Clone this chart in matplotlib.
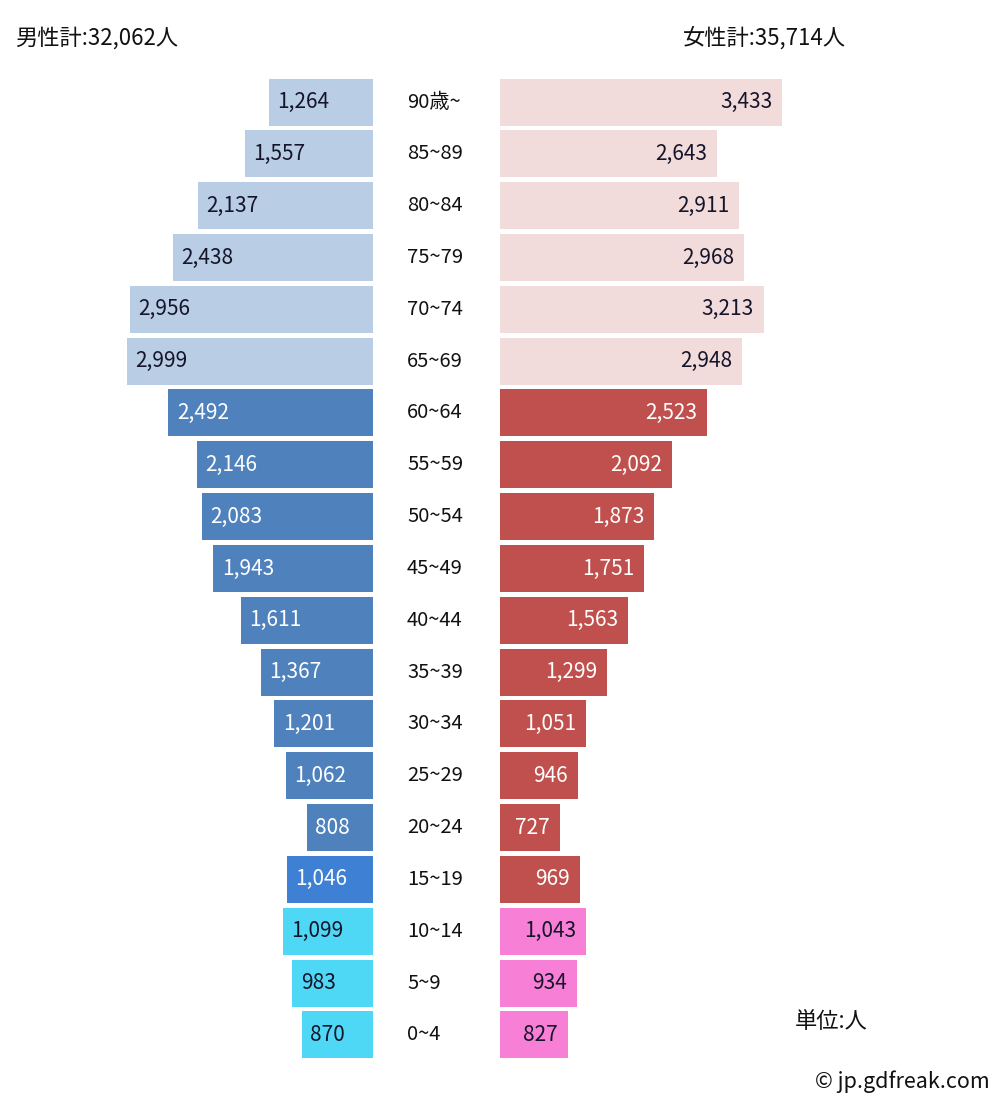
import matplotlib
matplotlib.use("Agg")
import matplotlib.pyplot as plt

ages = ["90歳~", "85~89", "80~84", "75~79", "70~74", "65~69", "60~64", "55~59",
        "50~54", "45~49", "40~44", "35~39", "30~34", "25~29", "20~24", "15~19",
        "10~14", "5~9", "0~4"]
male = [1264, 1557, 2137, 2438, 2956, 2999, 2492, 2146, 2083, 1943, 1611, 1367,
        1201, 1062, 808, 1046, 1099, 983, 870]
female = [3433, 2643, 2911, 2968, 3213, 2948, 2523, 2092, 1873, 1751, 1563, 1299,
          1051, 946, 727, 969, 1043, 934, 827]
male_total = "男性計:32,062人"
female_total = "女性計:35,714人"

def group(i):
    if i <= 5:
        return "old"
    if i == 15:
        return "teen"
    if i >= 16:
        return "young"
    return "mid"

male_colors = {"old": "#b9cde5", "mid": "#4f81bd", "teen": "#3d80d4", "young": "#4fd8f6"}
female_colors = {"old": "#f2dcdb", "mid": "#c0504d", "teen": "#c0504d", "young": "#f77fd6"}
text_colors = {"old": "#15152a", "mid": "white", "teen": "white", "young": "#15152a"}

FONT = ["Noto Sans CJK JP", "DejaVu Sans"]

W, H = 1000, 1103
fig = plt.figure(figsize=(W / 100, H / 100), dpi=100)

scale = 0.0821  # px per person
row_px = 51.83
y0 = 102
r_top = -y0 / row_px
r_bot = (H - y0) / row_px
bh = 47 / row_px

axm = fig.add_axes([0, 0, 373 / W, 1])
axm.set_xlim(373 / scale, 0)
axm.set_ylim(r_bot, r_top)
axm.axis("off")
axf = fig.add_axes([500 / W, 0, 500 / W, 1])
axf.set_xlim(0, 500 / scale)
axf.set_ylim(r_bot, r_top)
axf.axis("off")

ys = list(range(len(ages)))
gs = [group(i) for i in ys]
axm.barh(ys, male, height=bh, color=[male_colors[g] for g in gs], left=0)
axf.barh(ys, female, height=bh, color=[female_colors[g] for g in gs], left=0)

for i, (m, f, g) in enumerate(zip(male, female, gs)):
    axm.annotate(f"{m:,}", xy=(m, i), xytext=(6, 0), textcoords="offset points",
                 ha="left", va="center", fontsize=15, color=text_colors[g], family=FONT)
    axf.annotate(f"{f:,}", xy=(f, i), xytext=(-7, 0), textcoords="offset points",
                 ha="right", va="center", fontsize=15, color=text_colors[g], family=FONT)
    fig.text(407 / W, 1 - (y0 + i * row_px) / H, ages[i], ha="left", va="center",
             fontsize=14.5, color="#111111", family=FONT)

fig.text(15 / W, 1 - 38 / H, male_total, ha="left", va="center", fontsize=16,
         color="#111111", family=FONT)
fig.text(683 / W, 1 - 38 / H, female_total, ha="left", va="center", fontsize=16,
         color="#111111", family=FONT)
fig.text(795 / W, 1 - 1022 / H, "単位:人", ha="left", va="center", fontsize=16,
         color="#111111", family=FONT)
fig.text(990 / W, 1 - 1082 / H, "© jp.gdfreak.com", ha="right", va="center", fontsize=15.5,
         color="#111111", family=FONT)

fig.savefig("out.png", dpi=100)
